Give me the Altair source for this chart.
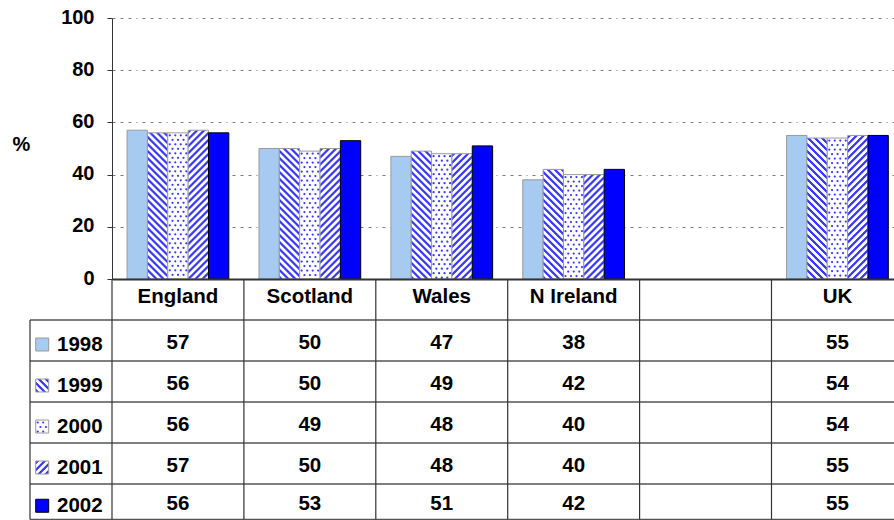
import altair as alt
import pandas as pd

# ---- data -----------------------------------------------------------------
columns = ["England", "Scotland", "Wales", "N Ireland", "", "UK"]
years = ["1998", "1999", "2000", "2001", "2002"]
v1998 = [57, 50, 47, 38, None, 55]
v1999 = [56, 50, 49, 42, None, 54]
v2000 = [56, 49, 48, 40, None, 54]
v2001 = [57, 50, 48, 40, None, 55]
v2002 = [56, 53, 51, 42, None, 55]
series = [v1998, v1999, v2000, v2001, v2002]
y_ticks = [0, 20, 40, 60, 80, 100]

# ---- layout (pixels) --------------------------------------------------------
LEFT, TOP = 112, 18
PLOT_W, PLOT_H = 782, 261
COL_W = 131.9                 # px per category / table column
YPX = PLOT_H / 100            # px per percentage point
XMAX = PLOT_W / COL_W
BAR_W = 20.35 / COL_W
GROUP_OFF = (1 - 5 * BAR_W) / 2
TABLE_TOP = 320               # bottom edge of the header row
ROW_H = 41
TABLE_BOTTOM = 519.5
KEY_LEFT = 30                 # left border of the key column
KEY_X0, KEY_SIZE = 35.7, 13   # key swatches
YEAR_X = 57
HATCH_P = 7.0                 # hatch period (px)
DOT_DX, DOT_DY = 5.5, 4.5     # dot lattice spacing (px)
BLUE = "#3a3aff"
FONT = "Liberation Sans"


def xe(px):
    """pixel column -> x data units (as an expression)"""
    return f"(({px}) - {LEFT}) / {COL_W}"


def ye(py):
    """pixel row -> y data units (as an expression)"""
    return f"({TOP + PLOT_H} - ({py})) / {YPX}"


def hatch(direction):
    stops = []
    for k in range(28):
        for f, c in ((0.0, "#ffffff"), (0.15, BLUE), (0.45, BLUE), (0.6, "#ffffff")):
            stops.append(f"{{offset: min(1, {k + f:.2f} * datum.tp), color: '{c}'}}")
    stops.append("{offset: 1, color: '#ffffff'}")
    if direction == "down":   # "\" stripes
        head = "gradient: 'linear', x1: 0, y1: 1, x2: datum.w * datum.gc, y2: 1 - datum.h * datum.gc"
    else:                     # "/" stripes
        head = "gradient: 'linear', x1: 0, y1: 0, x2: datum.w * datum.gc, y2: datum.h * datum.gc"
    return "{" + head + ", stops: [" + ", ".join(stops) + "]}"


rows = []
for j, (yr, vals) in enumerate(zip(years, series)):
    for i, v in enumerate(vals):
        if v is not None:
            rows.append({"kind": "bar", "col": i, "j": j, "year": yr, "value": v})
    rows.append({"kind": "key", "col": -1, "j": j, "year": yr, "value": None})
cells = pd.DataFrame(rows)

x_scale = alt.Scale(domain=[0, XMAX], nice=False, zero=False)
y_scale = alt.Scale(domain=[0, 100], nice=False, zero=False)
x_axis = alt.Axis(title=None, labels=False, ticks=False, grid=False,
                  domainColor="#333333", domainWidth=2, zindex=1)
y_axis = alt.Axis(values=y_ticks, title="%", titleAngle=0, titleX=-91, titleY=132,
                  titleAlign="center", titleBaseline="alphabetic",
                  labelBaseline="alphabetic", labelOffset=5, labelPadding=13,
                  tickSize=5, tickColor="#333333", domainColor="#333333",
                  grid=True, gridColor="#7a7a7a", gridDash=[3, 5, 3, 5, 3, 5, 1, 5])


def X(f):
    return alt.X(f, type="quantitative", scale=x_scale, axis=x_axis)


def Y(f):
    return alt.Y(f, type="quantitative", scale=y_scale, axis=y_axis)


base = alt.Chart(cells).transform_calculate(
    rtop=f"{TABLE_TOP} + datum.j * {ROW_H}",
).transform_calculate(
    rbot=f"min(datum.rtop + {ROW_H}, {TABLE_BOTTOM})",
).transform_calculate(
    rc="(datum.rtop + datum.rbot) / 2",
).transform_calculate(
    x0=f"datum.kind == 'bar' ? datum.col + {GROUP_OFF} + datum.j * {BAR_W} : {xe(KEY_X0)}",
).transform_calculate(
    x1=f"datum.kind == 'bar' ? datum.x0 + {BAR_W} : {xe(KEY_X0 + KEY_SIZE)}",
    y0=f"datum.kind == 'bar' ? 0 : {ye(f'datum.rc + 4 + {KEY_SIZE / 2}')}",
    y1=f"datum.kind == 'bar' ? datum.value : {ye(f'datum.rc + 4 - {KEY_SIZE / 2}')}",
).transform_calculate(
    w=f"(datum.x1 - datum.x0) * {COL_W}",
    h=f"(datum.y1 - datum.y0) * {YPX}",
).transform_calculate(
    tp=f"{HATCH_P} / (datum.w + datum.h)",
    gc="(datum.w + datum.h) / (datum.w * datum.w + datum.h * datum.h)",
)

rects = base.transform_calculate(
    fillv=("datum.j == 0 ? '#a6caf0' : datum.j == 1 ? " + hatch("down")
           + " : datum.j == 2 ? '#ffffff' : datum.j == 3 ? " + hatch("up")
           + " : '#0000ff'"),
    strokev="datum.j == 4 ? '#000000' : '#9a9a9a'",
).mark_rect(strokeWidth=1, aria=False).encode(
    x=X("x0"), x2="x1", y=Y("y0"), y2="y1",
    fill=alt.Fill("fillv:N", scale=None),
    stroke=alt.Stroke("strokev:N", scale=None),
)

dots = base.transform_filter("datum.j == 2").transform_calculate(
    r=f"sequence(0, ceil(datum.h / {DOT_DY}))",
).transform_flatten(["r"]).transform_calculate(
    c=f"sequence(0, ceil(datum.w / {DOT_DX}) + 1)",
).transform_flatten(["c"]).transform_calculate(
    dx=f"datum.c * {DOT_DX} + (datum.r % 2) * {DOT_DX / 2} + 2",
    dy=f"datum.r * {DOT_DY} + 2.5",
).transform_filter("datum.dx < datum.w - 1 && datum.dy < datum.h - 1").transform_calculate(
    px=f"datum.x0 + datum.dx / {COL_W}",
    py=f"datum.y1 - datum.dy / {YPX}",
).mark_circle(size=5, color=BLUE, opacity=1).encode(x=X("px"), y=Y("py"))

# table grid
hlines = alt.Chart(alt.sequence(0, 6, as_="k")).transform_calculate(
    xa=xe(KEY_LEFT), xb=f"{XMAX}",
    ya=ye(f"min({TABLE_TOP} + datum.k * {ROW_H}, {TABLE_BOTTOM})"),
).mark_rule(color="#555555", strokeWidth=1.5).encode(x=X("xa"), x2="xb", y=Y("ya"))

vlines = alt.Chart(alt.sequence(-1, 6, as_="c")).transform_calculate(
    xa=f"datum.c < 0 ? {xe(KEY_LEFT)} : datum.c",
    ya=f"datum.c < 0 ? {ye(TABLE_TOP)} : 0",
    yb=ye(TABLE_BOTTOM),
).mark_rule(color="#333333", strokeWidth=1.2).encode(x=X("xa"), y=Y("ya"), y2="yb")

header = alt.Chart(pd.DataFrame({"name": columns, "col": list(range(len(columns)))})).transform_calculate(
    tx="datum.col + 0.5", ty=ye(302.7),
).mark_text(baseline="alphabetic").encode(x=X("tx"), y=Y("ty"), text="name:N")

values = base.transform_filter("datum.kind == 'bar'").transform_calculate(
    tx="datum.col + 0.5", ty=ye("datum.rc + 8"),
).mark_text(baseline="alphabetic").encode(
    x=X("tx"), y=Y("ty"), text=alt.Text("value:Q", format="d"))

year_labels = base.transform_filter("datum.kind == 'key'").transform_calculate(
    tx=xe(YEAR_X), ty=ye("datum.rc + 10"),
).mark_text(baseline="alphabetic", align="left").encode(
    x=X("tx"), y=Y("ty"), text="year:N")

chart = alt.layer(rects, dots, hlines, vlines, header, values, year_labels).properties(
    width=PLOT_W, height=PLOT_H,
    autosize=alt.AutoSizeParams(type="none"),
    padding={"left": LEFT, "top": TOP, "right": 0, "bottom": 520 - TOP - PLOT_H},
    background="white",
).configure_view(stroke=None).configure_text(
    font=FONT, fontSize=20.5, fontWeight="bold", color="black",
).configure_axis(
    labelFont=FONT, labelFontSize=20, labelFontWeight="bold", labelColor="black",
    titleFont=FONT, titleFontSize=20, titleFontWeight="bold", titleColor="black",
)

chart.save("out.html", embed_options={"renderer": "svg", "actions": False})
